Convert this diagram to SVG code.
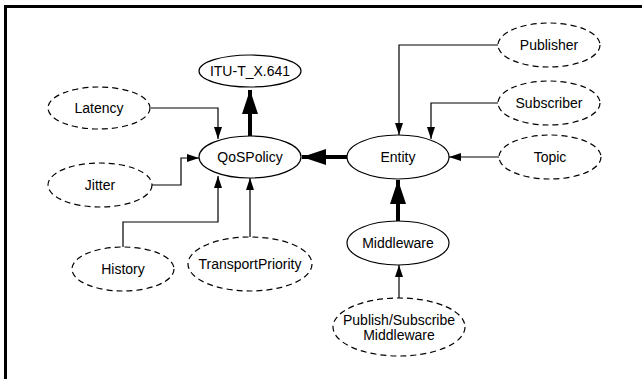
<svg xmlns="http://www.w3.org/2000/svg" width="642" height="379" viewBox="0 0 642 379">
<style>
.n{fill:#fff;stroke:#000;stroke-width:1.2}
.d{fill:#fff;stroke:#000;stroke-width:1.2;stroke-dasharray:6,4}
text{font-family:"Liberation Sans",Arial,sans-serif;font-size:14px;text-anchor:middle;fill:#000}
.e{fill:none;stroke:#000;stroke-width:1.2}
.t{fill:none;stroke:#000;stroke-width:4}
</style>
<defs>
<marker id="a" markerUnits="userSpaceOnUse" markerWidth="12" markerHeight="8" refX="12" refY="4" orient="auto"><path d="M0,0L12,4L0,8Z" fill="#000"/></marker>
<marker id="b" markerUnits="userSpaceOnUse" markerWidth="24" markerHeight="16" refX="24" refY="8" orient="auto"><path d="M0,0L24,8L0,16Z" fill="#000"/></marker>
</defs>
<rect width="642" height="379" fill="#fff"/>
<path d="M5.5,379V6.5H642" fill="none" stroke="#000" stroke-width="3"/>
<g id="connectors">
<path class="t" d="M250,137V90" marker-end="url(#b)"/>
<path class="e" d="M151,108H218V139" marker-end="url(#a)"/>
<path class="e" d="M152,185H181V158H199" marker-end="url(#a)"/>
<path class="e" d="M123,247V222H218V176" marker-end="url(#a)"/>
<path class="e" d="M250,237V178" marker-end="url(#a)"/>
<path class="t" d="M348,157H302" marker-end="url(#b)"/>
<path class="e" d="M498,45H399V135" marker-end="url(#a)"/>
<path class="e" d="M498,103H431V139" marker-end="url(#a)"/>
<path class="e" d="M499,157H449" marker-end="url(#a)"/>
<path class="t" d="M398,221V180" marker-end="url(#b)"/>
<path class="e" d="M399,298V265" marker-end="url(#a)"/>
</g>
<g id="itu"><ellipse class="n" cx="250" cy="71" rx="51" ry="16"/><text x="250" y="76">ITU-T_X.641</text></g>
<g id="qospolicy"><ellipse class="n" cx="250" cy="157" rx="51" ry="21"/><text x="250" y="162">QoSPolicy</text></g>
<g id="latency"><ellipse class="d" cx="99" cy="108" rx="51" ry="21"/><text x="99" y="113">Latency</text></g>
<g id="jitter"><ellipse class="d" cx="100" cy="185" rx="52" ry="22"/><text x="100" y="190">Jitter</text></g>
<g id="history"><ellipse class="d" cx="123" cy="269" rx="51" ry="22"/><text x="123" y="274">History</text></g>
<g id="transportpriority"><ellipse class="d" cx="250" cy="264" rx="62" ry="27"/><text x="250" y="269">TransportPriority</text></g>
<g id="entity"><ellipse class="n" cx="398" cy="157" rx="51" ry="22"/><text x="398" y="162">Entity</text></g>
<g id="publisher"><ellipse class="d" cx="549" cy="45" rx="51" ry="22"/><text x="549" y="50">Publisher</text></g>
<g id="subscriber"><ellipse class="d" cx="549" cy="103" rx="51" ry="22"/><text x="549" y="108">Subscriber</text></g>
<g id="topic"><ellipse class="d" cx="550" cy="157" rx="51" ry="22"/><text x="550" y="162">Topic</text></g>
<g id="middleware"><ellipse class="n" cx="398" cy="243" rx="51" ry="22"/><text x="398" y="248">Middleware</text></g>
<g id="pubsub"><ellipse class="d" cx="399" cy="327" rx="66" ry="29"/><text x="399" y="325">Publish/Subscribe</text><text x="399" y="340">Middleware</text></g>
</svg>
